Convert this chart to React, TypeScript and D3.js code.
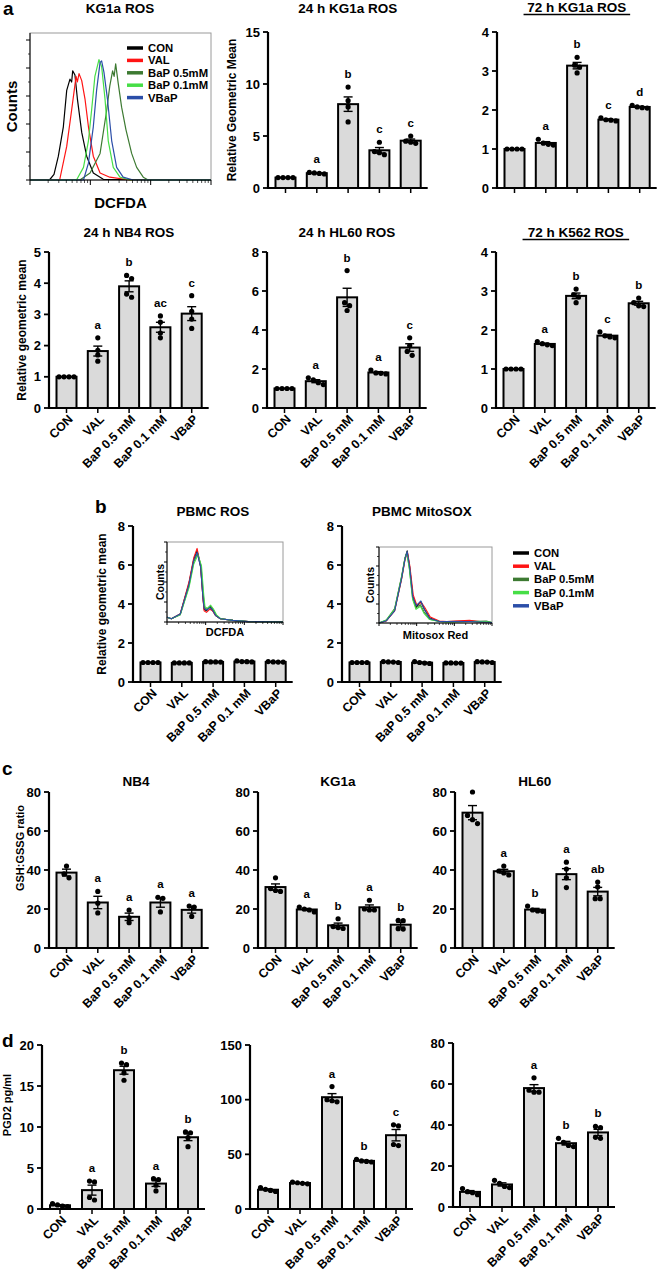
import React from 'react'
import * as d3 from 'd3'

const FONT = '"Liberation Sans", Arial, Helvetica, sans-serif'
const CATS = ['CON', 'VAL', 'BaP 0.5 mM', 'BaP 0.1 mM', 'VBaP']

// flow legend / colours
const HIST_NAMES = ['CON', 'VAL', 'BaP 0.5mM', 'BaP 0.1mM', 'VBaP']
const HIST_COLORS = ['#000000', '#ff1414', '#3d7a32', '#46de46', '#2b4ea8']

// a: KG1a DCFDA histogram, [intensity, counts]
const kgCon = [[1, 0], [2.1, 0], [2.5, 4], [2.95, 17], [3.57, 38], [4.06, 64], [4.6, 72], [4.9, 70], [5.1, 78], [5.56, 75], [6.1, 58], [7.2, 34], [8.7, 17], [11.2, 5], [16.4, 0.5], [1000, 0]]
const kgVal = [[1, 0], [3.1, 0], [4.06, 24], [4.9, 50], [5.8, 74], [6.1, 70], [6.5, 76], [7.2, 71], [8.15, 58], [9.3, 38], [11.2, 17], [14.5, 5], [21, 2], [45, 0], [1000, 0]]
const kgBap05 = [[1, 0], [6.7, 0], [9.9, 5], [14.5, 19], [18.7, 50], [21, 67], [23.4, 78], [24.8, 74], [26.3, 83], [29, 69], [33, 52], [38.9, 36], [48.4, 19], [58.6, 9], [75.4, 2], [91, 0], [1000, 0]]
const kgBap01 = [[1, 0], [5.9, 0], [7.7, 9], [9.3, 28], [10.5, 50], [11.9, 74], [13.9, 86], [15.4, 81], [17.5, 58], [19.8, 28], [24, 9], [31, 2], [45, 0], [1000, 0]]
const kgVbap = [[1, 0], [7.7, 0], [9.3, 12], [11.2, 38], [12.7, 64], [14.5, 84], [15.4, 85], [16.8, 77], [19.2, 58], [22.6, 28], [27.3, 9], [35, 2], [51.5, 0], [1000, 0]]

// b: PBMC insets
const rosCon = [[1, 6], [1.3, 4], [2.2, 10], [3.7, 48], [4.9, 78], [6.0, 89], [7.4, 69], [8.5, 31], [9.1, 16], [10.5, 14], [12.9, 19], [15, 15], [18.2, 8], [24, 4], [51, 2], [126, 0.5], [1000, 0]]
const rosVal = [[1, 6], [1.3, 4], [2.2, 10], [3.7, 50], [4.9, 80], [6.0, 92], [7.4, 70], [8.5, 30], [9.1, 14], [10.5, 12], [12.9, 16], [15, 14], [18.2, 8], [24, 4], [51, 2], [126, 0.5], [1000, 0]]
const rosBap05 = [[1, 6], [1.3, 4], [2.2, 9], [3.7, 45], [4.9, 75], [6.2, 86], [7.6, 70], [8.7, 33], [9.4, 18], [10.8, 16], [13.2, 20], [15.5, 16], [18.6, 9], [24, 4], [51, 2], [126, 0.5], [1000, 0]]
const rosBap01 = [[1, 6], [1.3, 4], [2.2, 9], [3.7, 43], [4.9, 72], [6.3, 84], [7.8, 70], [8.9, 34], [9.6, 19], [11, 17], [13.5, 21], [16, 16], [19, 9], [25, 4], [51, 2], [126, 0.5], [1000, 0]]
const rosVbap = [[1, 6], [1.3, 4], [2.2, 10], [3.7, 47], [4.9, 77], [6.0, 87], [7.4, 69], [8.5, 31], [9.1, 17], [10.5, 15], [12.9, 18], [15, 15], [18.2, 8], [24, 4], [51, 2], [126, 0.5], [1000, 0]]

const mitoCon = [[1, 0], [1.57, 3], [2.6, 17], [4, 60], [4.9, 85], [5.6, 95], [6.5, 74], [7.9, 35], [9.8, 21], [12.9, 28], [16, 18], [22.4, 6.5], [40, 2], [63, 2], [251, 2.5], [708, 1], [1000, 0.5]]
const mitoVal = [[1, 0], [1.57, 3], [2.6, 16], [4, 58], [4.9, 83], [5.7, 93], [6.6, 75], [8.1, 37], [10, 24], [13.4, 27], [16.6, 20], [23, 8], [40, 2.5], [63, 2], [251, 3.5], [708, 1], [1000, 0.5]]
const mitoBap05 = [[1, 0], [1.57, 4], [2.6, 19], [4, 62], [4.9, 86], [5.5, 93], [6.4, 72], [7.8, 33], [9.6, 20], [12.6, 24], [15.5, 15], [22, 5], [40, 2], [63, 1.5], [251, 2], [708, 2.5], [1000, 0.5]]
const mitoBap01 = [[1, 0], [1.57, 4], [2.6, 18], [4, 61], [4.9, 85], [5.5, 92], [6.4, 71], [7.8, 31], [9.6, 18], [12.6, 22], [15.5, 13], [22, 4.5], [40, 2], [63, 1.5], [251, 2], [708, 2], [1000, 0.5]]
const mitoVbap = [[1, 0], [1.57, 3], [2.6, 16], [4, 59], [4.9, 84], [5.6, 94], [6.5, 74], [7.9, 34], [9.8, 23], [12.9, 29], [16, 18], [22.4, 6], [40, 2], [63, 2], [251, 2], [708, 1], [1000, 0.5]]

// a: ROS relative geometric mean, replicates per group
const kg1a24 = [[1, 1, 1, 1], [1.5, 1.45, 1.4, 1.35], [9.7, 8.4, 7.8, 6.35], [4.4, 3.5, 3.4, 3.2], [5.0, 4.5, 4.4, 4.3]]
const kg1a24Sig = ['', 'a', 'b', 'c', 'c']
const kg1a72 = [[1, 1, 1, 1], [1.25, 1.15, 1.12, 1.1], [3.35, 3.15, 3.1, 2.95], [1.8, 1.75, 1.74, 1.72], [2.12, 2.08, 2.06, 2.05]]
const kg1a72Sig = ['', 'a', 'b', 'c', 'd']
const nb4Ros = [[1, 1, 1, 1], [2.25, 1.85, 1.7, 1.5], [4.25, 4.15, 3.65, 3.55], [2.95, 2.75, 2.4, 2.25], [3.6, 3.1, 2.85, 2.55]]
const nb4RosSig = ['', 'a', 'b', 'ac', 'c']
const hl60Ros = [[1, 1, 1, 1], [1.55, 1.45, 1.3, 1.2], [7.05, 5.4, 5.25, 5.0], [1.95, 1.8, 1.78, 1.75], [3.6, 3.2, 2.9, 2.7]]
const hl60RosSig = ['', 'a', 'b', 'a', 'c']
const k562Ros = [[1, 1, 1, 1], [1.7, 1.65, 1.62, 1.6], [3.05, 2.9, 2.85, 2.7], [1.95, 1.85, 1.82, 1.8], [2.82, 2.7, 2.62, 2.6]]
const k562RosSig = ['', 'a', 'b', 'c', 'b']

// b: PBMC
const pbmcRos = [[1, 1, 1, 1], [0.98, 0.98, 0.98, 0.98], [1.04, 1.03, 1.03, 1.02], [1.08, 1.05, 1.04, 1.03], [1.05, 1.03, 1.02, 1.02]]
const pbmcMito = [[1, 1, 1, 1], [1.05, 1.03, 1.02, 1.0], [1.05, 1.0, 0.97, 0.95], [0.98, 0.98, 0.97, 0.97], [1.04, 1.03, 1.02, 1.0]]
const noSig = ['', '', '', '', '']

// c: GSH:GSSG ratio
const gshNb4 = [[42, 38, 36], [29, 23, 18], [19.5, 15.5, 13], [26, 25.5, 18.5], [21.5, 21, 16.2]]
const gshNb4Sig = ['', 'a', 'a', 'a', 'a']
const gshKg1a = [[36, 30.5, 29.5, 29], [21, 20, 19.5, 18.5], [15, 11, 10.5, 10], [24.5, 20, 19.5, 19.5], [14.2, 14, 9.9, 9.7]]
const gshKg1aSig = ['', 'a', 'b', 'a', 'b']
const gshHl60 = [[80, 68, 65.8, 63.8], [42, 39.5, 38.5, 37.5], [21.5, 19.5, 19, 18.8], [44, 40.5, 36, 31], [33.8, 31.3, 25.3, 25.3]]
const gshHl60Sig = ['', 'a', 'b', 'a', 'ab']

// d: PGD2 pg/ml
const pgd1 = [[0.65, 0.5, 0.35, 0.3], [3.4, 3.3, 1.4, 1.1], [17.8, 17.6, 16.6, 15.7], [3.7, 3.6, 2.9, 2.2], [9.4, 9.3, 8.7, 7.6]]
const pgd1Sig = ['', 'a', 'b', 'a', 'b']
const pgd2 = [[19.5, 18, 17, 16], [24.5, 24, 23.5, 23], [112, 100, 99, 98], [45.5, 44, 43.5, 43], [77, 76, 59, 58]]
const pgd2Sig = ['', '', 'a', 'b', 'c']
const pgd3 = [[9, 7.5, 7, 6], [13, 11.5, 10, 9.5], [63, 57, 56, 56], [33.5, 31.5, 30, 29.5], [39.3, 38.7, 34, 33.5]]
const pgd3Sig = ['', '', 'a', 'b', 'b']

const bold = { fontFamily: FONT, fontWeight: 700 } as const

// spread replicate dots sideways when they sit at nearly the same height
function spread (vals: number[], y: (v: number) => number) {
  const idx = vals.map((_, i) => i).sort((a, b) => vals[b] - vals[a])
  const off = vals.map(() => 0)
  const groups: number[][] = []
  let g = [idx[0]]
  for (let k = 1; k < idx.length; k++) {
    if (Math.abs(y(vals[idx[k]]) - y(vals[g[g.length - 1]])) < 4.5) g.push(idx[k])
    else { groups.push(g); g = [idx[k]] }
  }
  groups.push(g)
  groups.forEach(gr => gr.forEach((i, j) => { off[i] = (j - (gr.length - 1) / 2) * 5 }))
  return off
}

type PanelProps = {
  pts: number[][]
  sig: string[]
  x0: number
  top: number
  bottom: number
  yMax: number
  step: number
  gap?: number
  pad?: number
  title?: string
  titleX?: number
  titleY?: number
  underline?: boolean
  ylabel?: string
  ylabelX?: number
  ylabelY?: number
  ylabelSize?: number
  xLabels?: boolean
}

function BarPanel (p: PanelProps) {
  const gap = p.gap ?? 31.3
  const pad = p.pad ?? 17.5
  const x = d3.scalePoint<string>().domain(CATS).range([p.x0 + pad, p.x0 + pad + gap * 4])
  const y = d3.scaleLinear().domain([0, p.yMax]).range([p.bottom, p.top])
  const ticks = d3.range(0, p.yMax + p.step / 2, p.step)
  const xEnd = p.x0 + pad + gap * 4 + 17
  const tx = p.titleX ?? (p.x0 + xEnd) / 2
  const bw = 20
  return (
    <g>
      {p.title && (
        <text x={tx} y={p.titleY} textAnchor='middle' fontSize={13.5} {...bold}>{p.title}</text>
      )}
      {p.title && p.underline && (
        <line x1={tx - p.title.length * 4.1} x2={tx + p.title.length * 4.1} y1={p.titleY! + 2.5} y2={p.titleY! + 2.5} stroke='#000' strokeWidth={1.3} />
      )}
      {p.ylabel && (
        <text transform={`translate(${p.ylabelX},${p.ylabelY ?? (p.top + p.bottom) / 2}) rotate(-90)`} textAnchor='middle' dy='0.35em' fontSize={p.ylabelSize ?? 12} {...bold}>{p.ylabel}</text>
      )}
      {CATS.map((c, i) => {
        const v = p.pts[i]
        const m = d3.mean(v)!
        const sem = (d3.deviation(v) ?? 0) / Math.sqrt(v.length)
        const cx = x(c)!
        const off = spread(v, y)
        const topV = Math.max(d3.max(v)!, m + sem)
        return (
          <g key={c}>
            <rect x={cx - bw / 2} y={y(m)} width={bw} height={p.bottom - y(m)} fill='#dadada' stroke='#000' strokeWidth={2} />
            {sem > 0 && (
              <g stroke='#000' strokeWidth={1.4}>
                <line x1={cx} x2={cx} y1={y(m - sem)} y2={y(m + sem)} />
                <line x1={cx - 4.5} x2={cx + 4.5} y1={y(m + sem)} y2={y(m + sem)} />
                <line x1={cx - 4.5} x2={cx + 4.5} y1={y(m - sem)} y2={y(m - sem)} />
              </g>
            )}
            {v.map((d, j) => <circle key={j} cx={cx + off[j]} cy={y(d)} r={2.6} fill='#000' />)}
            {p.sig[i] && (
              <text x={cx} y={y(topV) - 9} textAnchor='middle' fontSize={11.5} {...bold}>{p.sig[i]}</text>
            )}
            <line x1={cx} x2={cx} y1={p.bottom} y2={p.bottom + 5} stroke='#000' strokeWidth={1.5} />
            {p.xLabels && (
              <text transform={`translate(${cx + 7},${p.bottom + 12}) rotate(-45)`} textAnchor='end' fontSize={12.3} {...bold}>{c}</text>
            )}
          </g>
        )
      })}
      <line x1={p.x0} x2={xEnd} y1={p.bottom} y2={p.bottom} stroke='#000' strokeWidth={2.2} />
      <line x1={p.x0} x2={p.x0} y1={p.top} y2={p.bottom + 1} stroke='#000' strokeWidth={2.2} />
      {ticks.map(t => (
        <g key={t}>
          <line x1={p.x0 - 5} x2={p.x0} y1={y(t)} y2={y(t)} stroke='#000' strokeWidth={1.8} />
          <text x={p.x0 - 8} y={y(t)} dy='0.36em' textAnchor='end' fontSize={13} {...bold}>{t}</text>
        </g>
      ))}
    </g>
  )
}

type HistProps = {
  x0: number
  x1: number
  top: number
  bottom: number
  curves: number[][][]
  yMax: number
  yStep: number
  sw: number
  xLabel: string
  xLabelY: number
  xLabelSize: number
  cLabelX: number
  cLabelSize: number
}

function Hist (p: HistProps) {
  const x = d3.scaleLog().domain([1, 1000]).range([p.x0, p.x1])
  const y = d3.scaleLinear().domain([0, p.yMax]).range([p.bottom, p.top])
  const line = d3.line<number[]>().x(d => x(d[0])).y(d => y(d[1]))
  const majors = [1, 10, 100, 1000]
  const minors = [1, 10, 100].flatMap(d => d3.range(2, 10).map(k => k * d))
  const yMaj = d3.range(0, p.yMax + 0.01, p.yStep)
  const yMin = d3.range(p.yStep / 2, p.yMax, p.yStep)
  const big = p.x1 - p.x0 > 150
  return (
    <g>
      <rect x={p.x0} y={p.top} width={p.x1 - p.x0} height={p.bottom - p.top} fill='#fff' stroke='#9a9a9a' strokeWidth={1} />
      {p.curves.map((c, i) => (
        <path key={i} d={line(c)!} fill='none' stroke={HIST_COLORS[i]} strokeWidth={p.sw} strokeLinejoin='round' />
      ))}
      <line x1={p.x0} x2={p.x1} y1={p.bottom} y2={p.bottom} stroke='#000' strokeWidth={1} />
      <line x1={p.x0} x2={p.x0} y1={p.top} y2={p.bottom} stroke='#000' strokeWidth={1} />
      {majors.map(t => <line key={t} x1={x(t)} x2={x(t)} y1={p.bottom} y2={p.bottom + (big ? 5 : 3)} stroke='#000' strokeWidth={1} />)}
      {minors.map(t => <line key={t} x1={x(t)} x2={x(t)} y1={p.bottom} y2={p.bottom + (big ? 3 : 2)} stroke='#000' strokeWidth={0.7} />)}
      {yMaj.map(t => <line key={t} x1={p.x0 - (big ? 4 : 3)} x2={p.x0} y1={y(t)} y2={y(t)} stroke='#000' strokeWidth={1} />)}
      {yMin.map(t => <line key={t} x1={p.x0 - 2} x2={p.x0} y1={y(t)} y2={y(t)} stroke='#000' strokeWidth={0.7} />)}
      <text x={(p.x0 + p.x1) / 2} y={p.xLabelY} textAnchor='middle' fontSize={p.xLabelSize} {...bold}>{p.xLabel}</text>
      <text transform={`translate(${p.cLabelX},${(p.top + p.bottom) / 2}) rotate(-90)`} textAnchor='middle' dy='0.35em' fontSize={p.cLabelSize} {...bold}>Counts</text>
    </g>
  )
}

function Legend ({ x, y, step, sw }: { x: number, y: number, step: number, sw: number }) {
  return (
    <g>
      {HIST_NAMES.map((n, i) => (
        <g key={n}>
          <line x1={x} x2={x + 16} y1={y + i * step} y2={y + i * step} stroke={HIST_COLORS[i]} strokeWidth={sw} />
          <text x={x + 21} y={y + i * step} dy='0.36em' fontSize={11.3} {...bold}>{n}</text>
        </g>
      ))}
    </g>
  )
}

export default function App () {
  const letter = (t: string, x: number, y: number) => (
    <text x={x} y={y} fontSize={19} {...bold}>{t}</text>
  )
  return (
    <div style={{ position: 'absolute', left: 0, top: 0 }}>
      <svg width={657} height={1275} viewBox='0 0 657 1275' style={{ display: 'block', background: '#fff' }}>
        {/* a */}
        {letter('a', 3, 15)}
        <text x={120} y={13} textAnchor='middle' fontSize={13.5} {...bold}>KG1a ROS</text>
        <Hist x0={30} x1={211} top={33} bottom={180} curves={[kgCon, kgVal, kgBap05, kgBap01, kgVbap]}
          yMax={105} yStep={20} sw={1.2} xLabel='DCFDA' xLabelY={208} xLabelSize={15} cLabelX={12} cLabelSize={15} />
        <Legend x={127} y={48} step={12.4} sw={3.5} />
        <BarPanel pts={kg1a24} sig={kg1a24Sig} x0={268} top={32} bottom={188} yMax={15} step={5}
          title='24 h KG1a ROS' titleY={13} ylabel='Relative Geometric Mean' ylabelX={232} />
        <BarPanel pts={kg1a72} sig={kg1a72Sig} x0={497} top={32} bottom={188} yMax={4} step={1}
          title='72 h KG1a ROS' titleY={12} underline />
        <BarPanel pts={nb4Ros} sig={nb4RosSig} x0={49} top={252} bottom={408} yMax={5} step={1}
          title='24 h NB4 ROS' titleY={237} ylabel='Relative geometric mean' ylabelX={22} xLabels />
        <BarPanel pts={hl60Ros} sig={hl60RosSig} x0={267} top={252} bottom={408} yMax={8} step={2}
          title='24 h HL60 ROS' titleY={237} xLabels />
        <BarPanel pts={k562Ros} sig={k562RosSig} x0={496} top={252} bottom={408} yMax={4} step={1}
          title='72 h K562 ROS' titleY={237} underline xLabels />

        {/* b */}
        {letter('b', 95, 513)}
        <BarPanel pts={pbmcRos} sig={noSig} x0={133} top={526} bottom={682} yMax={8} step={2}
          title='PBMC ROS' titleY={516} ylabel='Relative geometric mean' ylabelX={102} xLabels />
        <BarPanel pts={pbmcMito} sig={noSig} x0={342} top={526} bottom={682} yMax={8} step={2}
          title='PBMC MitoSOX' titleY={516} xLabels />
        <Hist x0={167} x1={283} top={542} bottom={622} curves={[rosCon, rosVal, rosBap05, rosBap01, rosVbap]}
          yMax={100} yStep={25} sw={1.1} xLabel='DCFDA' xLabelY={636} xLabelSize={11} cLabelX={160} cLabelSize={10.5} />
        <Hist x0={379} x1={492} top={547} bottom={623} curves={[mitoCon, mitoVal, mitoBap05, mitoBap01, mitoVbap]}
          yMax={100} yStep={25} sw={1.1} xLabel='Mitosox Red' xLabelY={639} xLabelSize={11} cLabelX={370} cLabelSize={10.5} />
        <Legend x={513} y={553} step={13.2} sw={3.5} />

        {/* c */}
        {letter('c', 2, 775)}
        <BarPanel pts={gshNb4} sig={gshNb4Sig} x0={49} top={792} bottom={948} yMax={80} step={20}
          title='NB4' titleX={136} titleY={786} ylabel='GSH:GSSG ratio' ylabelX={20} ylabelY={848} ylabelSize={11} xLabels />
        <BarPanel pts={gshKg1a} sig={gshKg1aSig} x0={258} top={792} bottom={948} yMax={80} step={20}
          title='KG1a' titleY={786} xLabels />
        <BarPanel pts={gshHl60} sig={gshHl60Sig} x0={455} top={792} bottom={948} yMax={80} step={20}
          title='HL60' titleY={786} xLabels />

        {/* d */}
        {letter('d', 2, 1047)}
        <BarPanel pts={pgd1} sig={pgd1Sig} x0={42} top={1045} bottom={1209} yMax={20} step={5} gap={32} pad={18}
          ylabel='PGD2 pg/ml' ylabelX={7} ylabelY={1105} ylabelSize={11} xLabels />
        <BarPanel pts={pgd2} sig={pgd2Sig} x0={250} top={1045} bottom={1209} yMax={150} step={50} gap={32} pad={18} xLabels />
        <BarPanel pts={pgd3} sig={pgd3Sig} x0={453} top={1043} bottom={1207} yMax={80} step={20} gap={32} pad={17} xLabels />
      </svg>
    </div>
  )
}
